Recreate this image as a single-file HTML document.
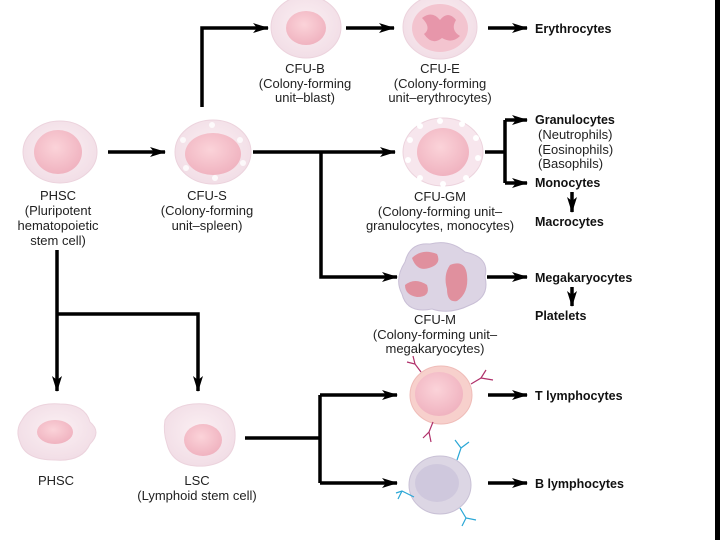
<!DOCTYPE html>
<html><head><meta charset="utf-8"><style>
html,body{margin:0;padding:0;background:#fff;}
svg{display:block;}
text{font-family:"Liberation Sans",sans-serif;font-size:13px;fill:#222;}
.b{font-weight:bold;font-size:12.5px;fill:#111;}
</style></head><body>
<svg width="720" height="540" viewBox="0 0 720 540" xmlns="http://www.w3.org/2000/svg">
<defs>
<radialGradient id="cg" cx="50%" cy="45%" r="60%"><stop offset="0" stop-color="#fbf0f3"/><stop offset="1" stop-color="#f1dce5"/></radialGradient>
<radialGradient id="ng" cx="45%" cy="40%" r="60%"><stop offset="0" stop-color="#fbd3d9"/><stop offset="1" stop-color="#f0b3c0"/></radialGradient>
<marker id="ah" markerWidth="18" markerHeight="12" refX="15" refY="6" orient="auto" markerUnits="userSpaceOnUse"><path d="M0,1 L16,6 L0,11 L4,6 Z" fill="#000"/></marker>
</defs>
<rect x="715" y="0" width="5" height="540" fill="#000"/>
<g stroke="#000" stroke-width="3.5" fill="none">
<path d="M108 152 H165" marker-end="url(#ah)"/>
<path d="M202 107 V28 H268" marker-end="url(#ah)"/>
<path d="M346 28 H394" marker-end="url(#ah)"/>
<path d="M488 28 H527" marker-end="url(#ah)"/>
<path d="M253 152 H395" marker-end="url(#ah)"/>
<path d="M321 152 V277 H397" marker-end="url(#ah)"/>
<path d="M485 152 H505"/>
<path d="M505 120 V183"/>
<path d="M505 120 H527" marker-end="url(#ah)"/>
<path d="M505 183 H527" marker-end="url(#ah)"/>
<path d="M572 192 V212" marker-end="url(#ah)"/>
<path d="M487 277 H527" marker-end="url(#ah)"/>
<path d="M572 287 V306" marker-end="url(#ah)"/>
<path d="M57 250 V391" marker-end="url(#ah)"/>
<path d="M57 314 H198 V391" marker-end="url(#ah)"/>
<path d="M245 438 H320"/>
<path d="M320 395 V483"/>
<path d="M320 395 H397" marker-end="url(#ah)"/>
<path d="M320 483 H397" marker-end="url(#ah)"/>
<path d="M488 395 H527" marker-end="url(#ah)"/>
<path d="M488 483 H527" marker-end="url(#ah)"/>
</g>
<!-- cells -->
<ellipse cx="60" cy="152" rx="37" ry="31" fill="url(#cg)" stroke="#ecd3dd"/>
<ellipse cx="58" cy="152" rx="24" ry="22" fill="url(#ng)"/>
<ellipse cx="213" cy="152" rx="38" ry="32" fill="url(#cg)" stroke="#ecd3dd"/>
<ellipse cx="213" cy="154" rx="28" ry="21" fill="url(#ng)"/>
<g fill="#fff" opacity=".8"><circle cx="183" cy="140" r="3"/><circle cx="186" cy="168" r="3"/><circle cx="240" cy="140" r="3"/><circle cx="243" cy="163" r="3"/><circle cx="212" cy="125" r="3"/><circle cx="215" cy="178" r="3"/></g>
<ellipse cx="306" cy="27" rx="35" ry="31" fill="url(#cg)" stroke="#ecd3dd"/>
<ellipse cx="306" cy="28" rx="20" ry="17" fill="url(#ng)"/>
<ellipse cx="440" cy="27" rx="37" ry="32" fill="url(#cg)" stroke="#ecd3dd"/>
<ellipse cx="440" cy="28" rx="28" ry="24" fill="#f3c4cf"/>
<path d="M422 18 q10 -8 18 2 q8 -10 16 0 q-6 10 4 16 q-8 8 -18 2 q-10 8 -18 -4 q8 -6 -2 -16z" fill="#e38ba0" opacity=".8"/>
<ellipse cx="443" cy="152" rx="40" ry="34" fill="#f7e6ed" stroke="#ecd3dd"/>
<ellipse cx="443" cy="152" rx="26" ry="24" fill="url(#ng)"/>
<g fill="#fff"><circle cx="410" cy="140" r="3"/><circle cx="408" cy="160" r="3"/><circle cx="420" cy="178" r="3"/><circle cx="443" cy="184" r="3"/><circle cx="466" cy="178" r="3"/><circle cx="478" cy="158" r="3"/><circle cx="476" cy="138" r="3"/><circle cx="462" cy="124" r="3"/><circle cx="440" cy="121" r="3"/><circle cx="420" cy="126" r="3"/></g>
<path d="M405 262 q5 -20 25 -18 q20 -5 35 8 q25 5 20 25 q5 20 -15 28 q-20 10 -38 4 q-25 5 -30 -15 q-8 -15 3 -32z" fill="#dcd4e4" stroke="#c9bfd6"/>
<path d="M412 258 q10 -10 25 -4 q5 10 -8 14 q-12 4 -17 -10z" fill="#e0909e"/>
<path d="M405 285 q10 -8 22 0 q4 12 -10 12 q-12 -2 -12 -12z" fill="#e0909e"/>
<path d="M450 265 q15 -6 17 10 q2 18 -10 26 q-10 2 -10 -12 q-4 -14 3 -24z" fill="#e0909e"/>
<ellipse cx="441" cy="395" rx="31" ry="29" fill="#f7d0cc" stroke="#efbcb8"/>
<ellipse cx="439" cy="394" rx="24" ry="22" fill="url(#ng)"/>
<g stroke="#b0306a" stroke-width="1.2" fill="none"><path d="M421 372 l-6 -8 l-8 -2 M415 364 l-2 -8"/><path d="M471 384 l10 -6 l5 -8 M481 378 l12 2"/><path d="M433 422 l-4 10 l-6 6 M429 432 l2 10"/></g>
<ellipse cx="440" cy="485" rx="31" ry="29" fill="#dcd6e4" stroke="#c9c1d6"/>
<ellipse cx="437" cy="483" rx="22" ry="19" fill="#cfc8dd"/>
<g stroke="#2aa7d6" stroke-width="1.2" fill="none"><path d="M457 460 l4 -12 l8 -6 M461 448 l-6 -8"/><path d="M414 497 l-12 -6 l-6 2 M402 491 l-4 8"/><path d="M460 508 l6 10 l10 2 M466 518 l-4 8"/></g>
<path d="M22 420 q10 -18 38 -16 q25 0 30 18 q12 10 0 22 q-8 18 -35 16 q-30 0 -35 -18 q-5 -12 2 -22z" fill="url(#cg)" stroke="#ecd3dd"/>
<ellipse cx="55" cy="432" rx="18" ry="12" fill="url(#ng)"/>
<path d="M165 420 q10 -18 40 -16 q28 4 30 28 q2 30 -30 34 q-32 2 -38 -22 q-4 -12 -2 -24z" fill="url(#cg)" stroke="#ecd3dd"/>
<ellipse cx="203" cy="440" rx="19" ry="16" fill="url(#ng)"/>
<!-- labels -->
<g text-anchor="middle">
<text x="58" y="200">PHSC</text><text x="58" y="215">(Pluripotent</text><text x="58" y="230">hematopoietic</text><text x="58" y="245">stem cell)</text>
<text x="207" y="200">CFU-S</text><text x="207" y="215">(Colony-forming</text><text x="207" y="230">unit–spleen)</text>
<text x="305" y="73">CFU-B</text><text x="305" y="88">(Colony-forming</text><text x="305" y="102">unit–blast)</text>
<text x="440" y="73">CFU-E</text><text x="440" y="88">(Colony-forming</text><text x="440" y="102">unit–erythrocytes)</text>
<text x="440" y="201">CFU-GM</text><text x="440" y="216">(Colony-forming unit–</text><text x="440" y="230">granulocytes, monocytes)</text>
<text x="435" y="324">CFU-M</text><text x="435" y="339">(Colony-forming unit–</text><text x="435" y="353">megakaryocytes)</text>
<text x="56" y="485">PHSC</text>
<text x="197" y="485">LSC</text><text x="197" y="500">(Lymphoid stem cell)</text>
</g>
<text class="b" x="535" y="33">Erythrocytes</text>
<text class="b" x="535" y="124">Granulocytes</text>
<text x="538" y="139">(Neutrophils)</text><text x="538" y="154">(Eosinophils)</text><text x="538" y="168">(Basophils)</text>
<text class="b" x="535" y="187">Monocytes</text>
<text class="b" x="535" y="226">Macrocytes</text>
<text class="b" x="535" y="282">Megakaryocytes</text>
<text class="b" x="535" y="320">Platelets</text>
<text class="b" x="535" y="400">T lymphocytes</text>
<text class="b" x="535" y="488">B lymphocytes</text>
</svg>
</body></html>
